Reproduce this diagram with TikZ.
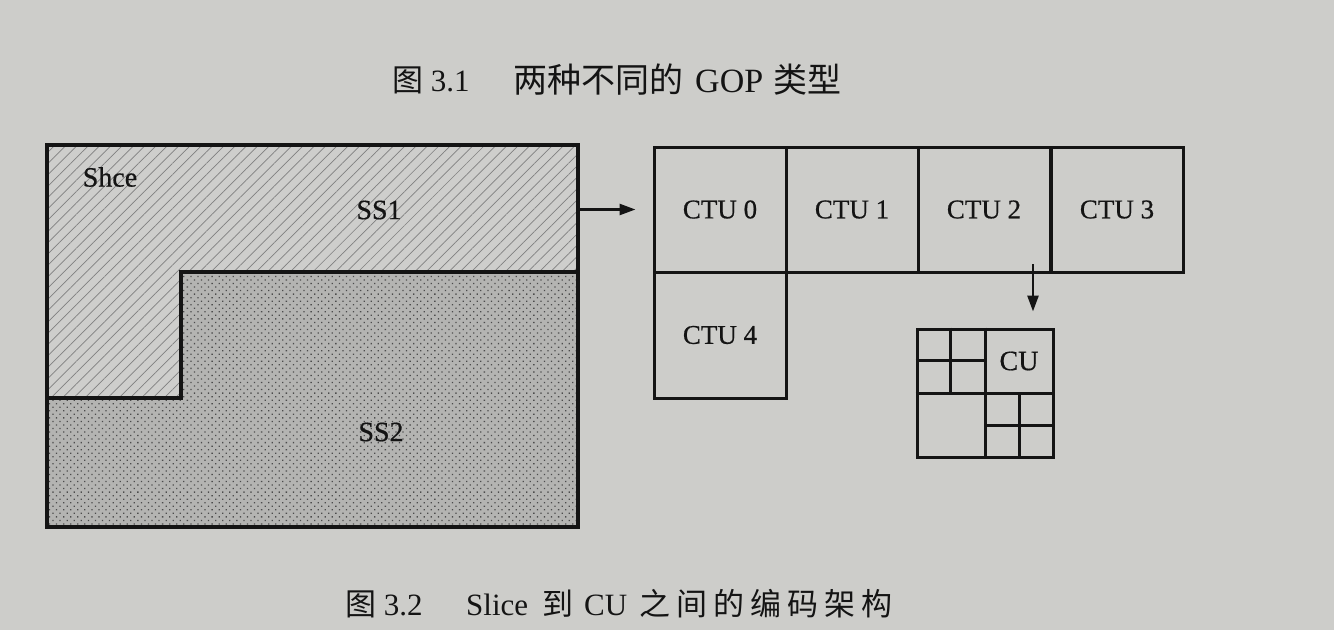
\documentclass[tikz,border=0pt]{standalone}
\usepackage{fontspec}
\setmainfont{Liberation Serif}
\newfontfamily\heavy[FakeBold=0.6]{Liberation Serif}
\newfontfamily\cjk{Noto Sans CJK SC}
\usetikzlibrary{patterns.meta,arrows.meta,calc}
\definecolor{paper}{RGB}{205,205,202}
\definecolor{ink}{RGB}{20,20,20}
\begin{document}
\begin{tikzpicture}[x=1pt,y=-1pt,
  ctubox/.style={draw=ink,line width=3pt,minimum width=132pt,minimum height=125pt,inner sep=0pt,
    font=\heavy\fontsize{27}{30}\selectfont,text=ink},
  lab/.style={font=\heavy\fontsize{28}{30}\selectfont,text=ink,inner sep=0pt},
  captext/.style={font=\fontsize{31}{36}\selectfont,text=ink,inner sep=0pt,anchor=west},
  conn/.style={draw=ink,line width=2.6pt,-{Triangle[length=16pt,width=11pt]}},
  gridline/.style={draw=ink,line width=3pt}]
\useasboundingbox (0,0) rectangle (1334,630);
\fill[paper] (0,0) rectangle (1334,630);
% SS1 region (hatched)
\path[preaction={fill=paper!97!white},pattern={Lines[angle=45,distance=8pt,line width=0.7pt]},pattern color=black!50]
  (47,145) -- (578,145) -- (578,272) -- (181,272) -- (181,398) -- (47,398) -- cycle;
% SS2 region (dotted)
\path[preaction={fill=paper!88!black},pattern={Dots[angle=45,distance=5pt,radius=0.9pt]},pattern color=black!70]
  (47,398) -- (181,398) -- (181,272) -- (578,272) -- (578,527) -- (47,527) -- cycle;
% slice outline
\node[draw=ink,line width=3.4pt,minimum width=531pt,minimum height=382pt,inner sep=0pt] (slice) at (312.5,336) {};
\draw[gridline,line width=3.2pt] (578,272) -- (181,272) -- (181,398) -- (47,398);
\node[lab] (shce) at (110,177) {Shce};
\node[lab] (ss1) at (379,210) {SS1};
\node[lab] (ss2) at (381,432) {SS2};
% CTUs
\node[ctubox] (ctu0) at (720,209.5) {CTU 0};
\node[ctubox] (ctu1) at (852,209.5) {CTU 1};
\node[ctubox] (ctu2) at (984,209.5) {CTU 2};
\node[ctubox] (ctu3) at (1117,209.5) {CTU 3};
\node[ctubox,minimum height=126pt] (ctu4) at (720,335) {CTU 4};
% CU
\node[draw=ink,line width=3pt,minimum width=136pt,minimum height=128pt,inner sep=0pt] (cu) at (985,393) {};
\draw[gridline] (cu.north) -- (cu.south);
\draw[gridline] (cu.west) -- (cu.east);
\draw[gridline] ($(cu.north west)!0.5!(cu.north)$) -- ($(cu.west)!0.5!(cu.center)$);
\draw[gridline] ($(cu.west)!0.5!(cu.north west)$) -- ($(cu.center)!0.5!(cu.north)$);
\draw[gridline] ($(cu.center)!0.5!(cu.east)$) -- ($(cu.south)!0.5!(cu.south east)$);
\draw[gridline] ($(cu.south)!0.5!(cu.center)$) -- ($(cu.south east)!0.5!(cu.east)$);
\node[lab] (culab) at (1019,361) {CU};
% connectors
\draw[conn,shorten >=17pt] (slice.east |- ctu0.west) -- (ctu0.west);
\coordinate (dstart) at (1033,264);
\draw[conn,shorten >=16pt] (dstart) -- (dstart |- cu.north);
% captions
\node[captext] (cap1a) at (392,80) {{\cjk 图} 3.1};
\node[captext,font=\fontsize{34}{36}\selectfont] (cap1b) at (513,80) {{\cjk 两种不同的}\hspace{12pt}GOP\hspace{10pt}{\cjk 类型}};
\node[captext] (cap2a) at (345,604) {{\cjk 图} 3.2};
\node[captext] (cap2b) at (466,604) {Slice\hspace{14pt}{\cjk 到}\hspace{11pt}CU\hspace{12pt}{\cjk 之\hspace{6pt}间\hspace{6pt}的\hspace{6pt}编\hspace{6pt}码\hspace{6pt}架\hspace{6pt}构}};
\end{tikzpicture}
\end{document}
